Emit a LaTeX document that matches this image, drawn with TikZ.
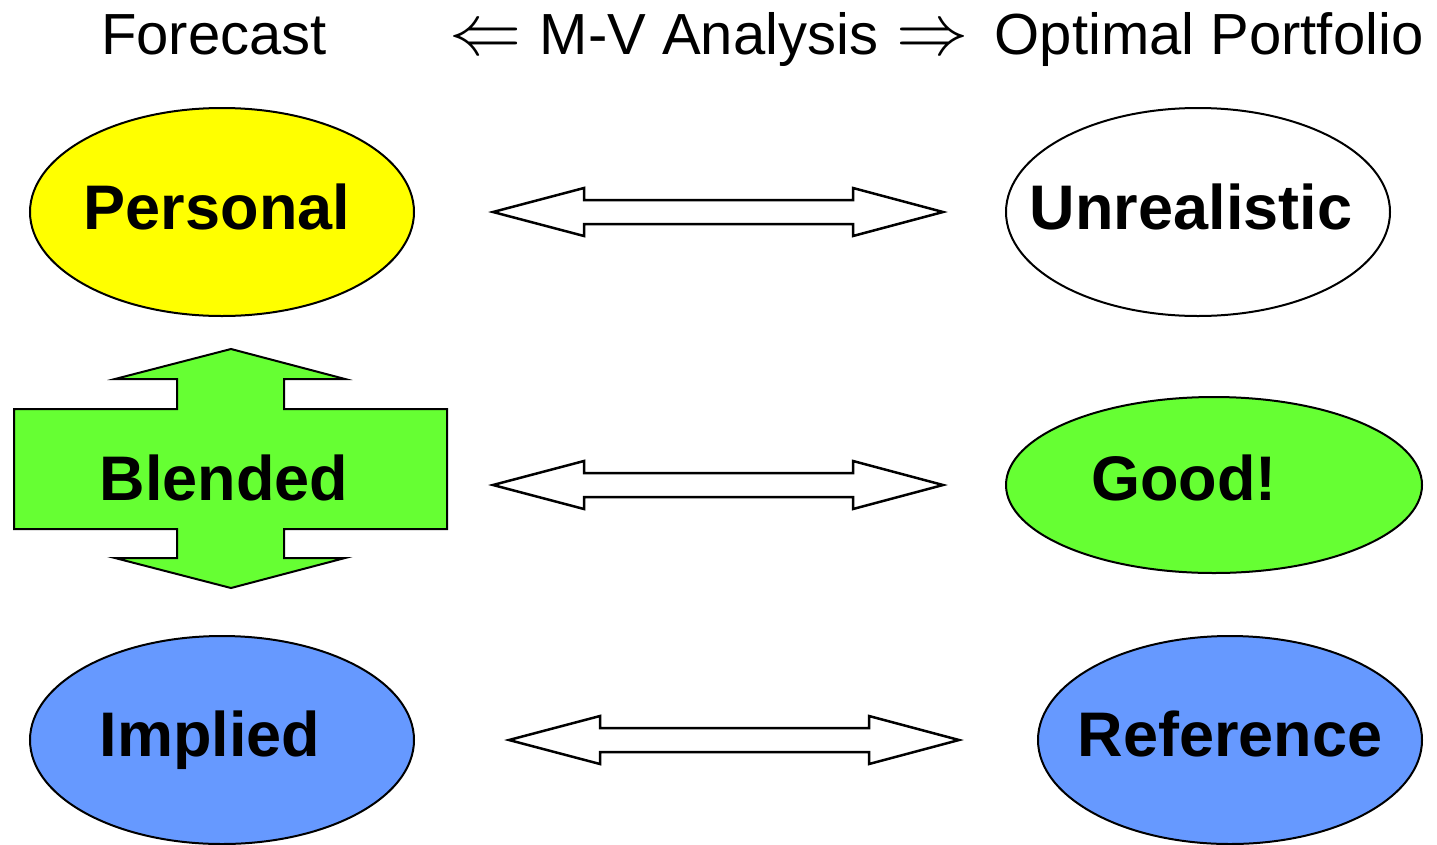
\documentclass[tikz,border=0pt]{standalone}
\usepackage{fontspec}
\setmainfont{Liberation Sans}
\usetikzlibrary{shapes.geometric}
\definecolor{cyellow}{HTML}{FFFF00}
\definecolor{cgreen}{HTML}{66FF33}
\definecolor{cblue}{HTML}{6699FF}
\tikzset{
  oval/.style={draw=black, line width=2pt},
  lab/.style={font=\fontsize{63}{70}\selectfont\bfseries, anchor=base, inner sep=0pt},
  head/.style={font=\fontsize{58}{64}\selectfont, anchor=base, inner sep=0pt},
  harrow/.style={draw=black, fill=white, line width=2.5pt, line join=miter},
}
\begin{document}
\begin{tikzpicture}[x=1pt,y=-1pt]
\useasboundingbox (0,0) rectangle (1437,844);
\clip (0,0) rectangle (1437,844);
% header
\node[head] (hf) at (214,54) {Forecast};
\node[head] (hm) at (709,54) {\scalebox{2.9}{$\Leftarrow$}\hspace{18pt}M-V Analysis\hspace{18pt}\scalebox{2.9}{$\Rightarrow$}};
\node[head] (ho) at (1209,54) {Optimal Portfolio};
% ellipses
\draw[oval, fill=cyellow] (222,212) ellipse [x radius=192, y radius=104];
\draw[oval, fill=white] (1198,212) ellipse [x radius=192, y radius=104];
\draw[oval, fill=cgreen] (1214,485) ellipse [x radius=208, y radius=88];
\draw[oval, fill=cblue] (222,740) ellipse [x radius=192, y radius=104];
\draw[oval, fill=cblue] (1230,740) ellipse [x radius=192, y radius=104];
% blended up-down arrow
\draw[harrow, fill=cgreen, line width=2pt]
  (231,349) -- (345,379) -- (284,379) -- (284,409) -- (447,409) -- (447,529)
  -- (284,529) -- (284,558) -- (345,558) -- (231,588) -- (115,558) -- (177,558)
  -- (177,529) -- (14,529) -- (14,409) -- (177,409) -- (177,379) -- (115,379) -- cycle;
% hollow double arrows
\foreach \dx/\yy in {0/212, 0/485, 16/740}{
  \begin{scope}[shift={(\dx,\yy)}]
  \draw[harrow] (493,0) -- (584,-24) -- (584,-12) -- (853,-12) -- (853,-24)
    -- (943,0) -- (853,24) -- (853,12) -- (584,12) -- (584,24) -- cycle;
  \end{scope}
}
% labels
\node[lab] (personal) at (217,229) {Personal};
\node[lab] (unreal) at (1191,229) {Unrealistic};
\node[lab] (blended) at (224,500) {Blended};
\node[lab] (good) at (1184,500) {Good!};
\node[lab] (implied) at (210,756) {Implied};
\node[lab] (refer) at (1230,756) {Reference};
\end{tikzpicture}
\end{document}
